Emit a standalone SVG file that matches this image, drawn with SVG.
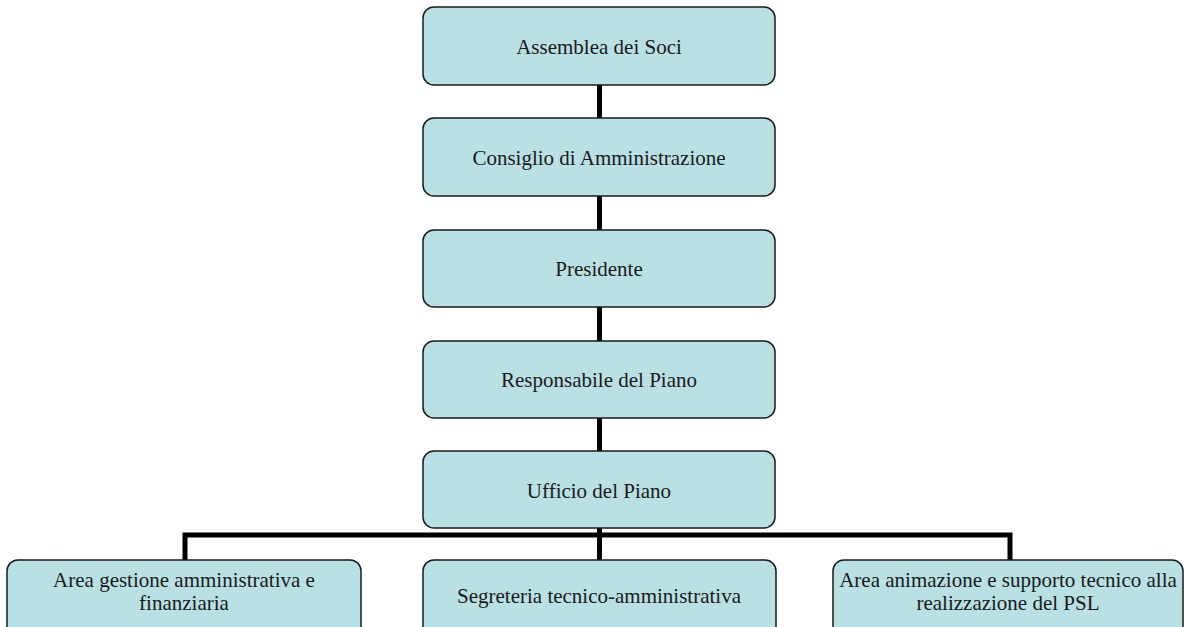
<svg xmlns="http://www.w3.org/2000/svg" width="1186" height="627" viewBox="0 0 1186 627">
<style>
.box{fill:#b9e0e3;stroke:#1a1a1a;stroke-width:1.5}
.t{font-family:"Liberation Serif","Times New Roman",serif;font-size:21px;fill:#1a1a1a;text-anchor:middle}
.c{stroke:#000;stroke-width:5;fill:none}
</style>
<rect width="1186" height="627" fill="#fff"/>
<g id="connectors">
<line class="c" x1="599.5" y1="85" x2="599.5" y2="118"/>
<line class="c" x1="599.5" y1="196" x2="599.5" y2="230"/>
<line class="c" x1="599.5" y1="307" x2="599.5" y2="341"/>
<line class="c" x1="599.5" y1="418" x2="599.5" y2="452"/>
<line class="c" x1="599.5" y1="528" x2="599.5" y2="560"/>
<polyline class="c" points="185,560 185,535 1010,535 1010,560"/>
</g>
<g id="n1"><rect class="box" x="423" y="7" width="352" height="78" rx="11"/><text class="t" x="599" y="54">Assemblea dei Soci</text></g>
<g id="n2"><rect class="box" x="423" y="118" width="352" height="78" rx="11"/><text class="t" x="599" y="165">Consiglio di Amministrazione</text></g>
<g id="n3"><rect class="box" x="423" y="230" width="352" height="77" rx="11"/><text class="t" x="599" y="276">Presidente</text></g>
<g id="n4"><rect class="box" x="423" y="341" width="352" height="77" rx="11"/><text class="t" x="599" y="387">Responsabile del Piano</text></g>
<g id="n5"><rect class="box" x="423" y="451" width="352" height="77" rx="11"/><text class="t" x="599" y="498">Ufficio del Piano</text></g>
<g id="n6"><rect class="box" x="7" y="560" width="354" height="80" rx="11"/><text class="t" x="184" y="587">Area gestione amministrativa e</text><text class="t" x="184" y="610">finanziaria</text></g>
<g id="n7"><rect class="box" x="423" y="560" width="353" height="80" rx="11"/><text class="t" x="599" y="603">Segreteria tecnico-amministrativa</text></g>
<g id="n8"><rect class="box" x="833" y="560" width="350" height="80" rx="11"/><text class="t" x="1008" y="587">Area animazione e supporto tecnico alla</text><text class="t" x="1008" y="610">realizzazione del PSL</text></g>
</svg>
